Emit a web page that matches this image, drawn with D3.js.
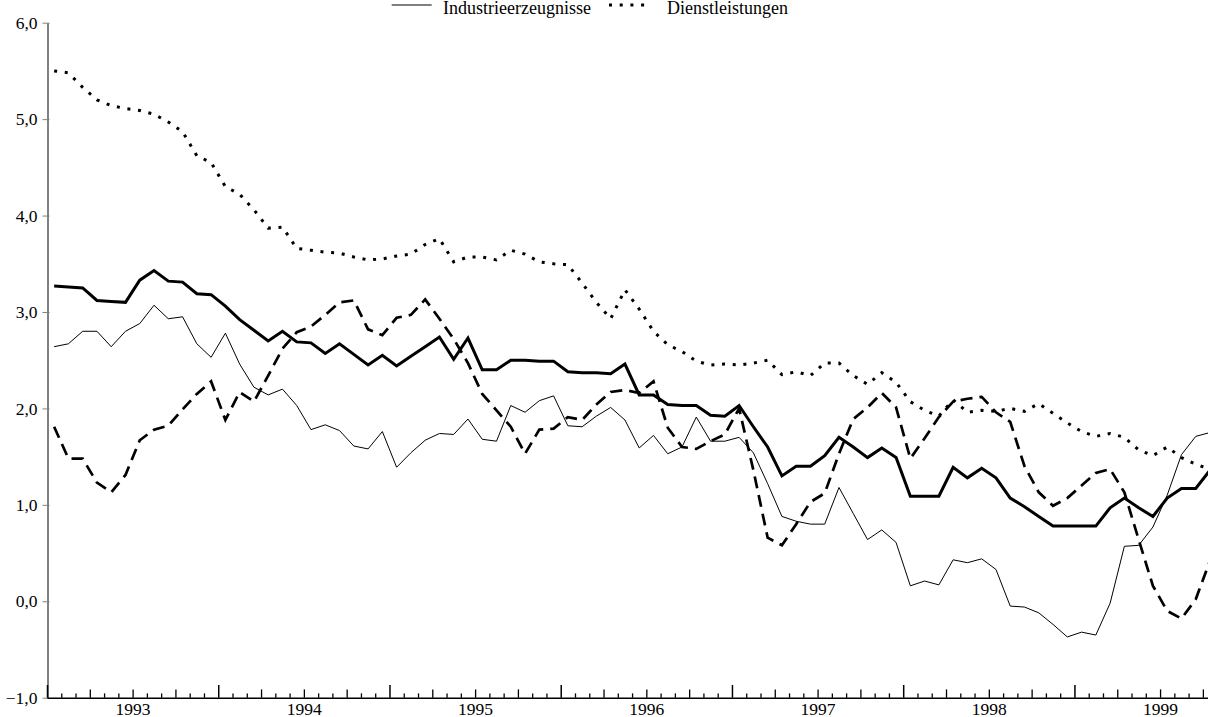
<!DOCTYPE html>
<html>
<head>
<meta charset="utf-8">
<script src="https://cdn.jsdelivr.net/npm/d3@7"></script>
<style>
  html, body { margin: 0; padding: 0; background: #fff; }
  svg { display: block; font-family: "Liberation Serif", "Times New Roman", serif; }
</style>
</head>
<body>
<div id="chart"></div>
<script>
// monthly data, first value = January 1993
var years = ['1993', '1994', '1995', '1996', '1997', '1998', '1999']
var yTicks = [-1, 0, 1, 2, 3, 4, 5, 6]
var legendLabels = ['Industrieerzeugnisse', 'Dienstleistungen']

var insgesamt = [3.27, 3.26, 3.25, 3.12, 3.11, 3.10, 3.33, 3.43, 3.32, 3.31,
  3.19, 3.18, 3.06, 2.92, 2.81, 2.70, 2.80, 2.69, 2.68, 2.57,
  2.67, 2.56, 2.45, 2.55, 2.44, 2.54, 2.64, 2.74, 2.51, 2.73,
  2.40, 2.40, 2.50, 2.50, 2.49, 2.49, 2.38, 2.37, 2.37, 2.36,
  2.46, 2.14, 2.14, 2.04, 2.03, 2.03, 1.93, 1.92, 2.03, 1.81,
  1.60, 1.30, 1.40, 1.40, 1.51, 1.70, 1.60, 1.49, 1.59, 1.49,
  1.09, 1.09, 1.09, 1.39, 1.28, 1.38, 1.28, 1.07, 0.98, 0.88,
  0.78, 0.78, 0.78, 0.78, 0.97, 1.07, 0.97, 0.88, 1.07, 1.17,
  1.17, 1.36]

var industrie = [2.64, 2.67, 2.80, 2.80, 2.64, 2.80, 2.88, 3.07, 2.93, 2.95,
  2.67, 2.53, 2.78, 2.46, 2.22, 2.14, 2.20, 2.03, 1.78, 1.83,
  1.77, 1.61, 1.58, 1.76, 1.39, 1.54, 1.67, 1.74, 1.73, 1.89,
  1.68, 1.66, 2.03, 1.96, 2.08, 2.13, 1.82, 1.81, 1.92, 2.01,
  1.88, 1.59, 1.72, 1.53, 1.60, 1.91, 1.66, 1.66, 1.70, 1.54,
  1.22, 0.88, 0.83, 0.80, 0.80, 1.18, 0.91, 0.64, 0.74, 0.61,
  0.16, 0.21, 0.17, 0.43, 0.40, 0.44, 0.33, -0.05, -0.06, -0.12,
  -0.24, -0.37, -0.32, -0.35, -0.02, 0.57, 0.58, 0.77, 1.10, 1.52,
  1.71, 1.75]

var dienste = [5.50, 5.48, 5.33, 5.20, 5.14, 5.11, 5.09, 5.05, 4.97, 4.87,
  4.62, 4.55, 4.30, 4.22, 4.06, 3.87, 3.88, 3.66, 3.64, 3.62,
  3.61, 3.57, 3.54, 3.55, 3.58, 3.60, 3.70, 3.76, 3.52, 3.57,
  3.57, 3.54, 3.64, 3.60, 3.52, 3.50, 3.49, 3.30, 3.10, 2.93,
  3.23, 3.03, 2.80, 2.66, 2.59, 2.49, 2.45, 2.46, 2.45, 2.47,
  2.50, 2.35, 2.38, 2.34, 2.47, 2.47, 2.34, 2.25, 2.37, 2.27,
  2.07, 1.98, 1.92, 2.09, 1.96, 1.98, 1.97, 2.00, 1.97, 2.05,
  1.95, 1.85, 1.76, 1.71, 1.74, 1.70, 1.57, 1.51, 1.60, 1.49,
  1.42, 1.37]

var nahrung = [1.81, 1.48, 1.48, 1.23, 1.13, 1.31, 1.67, 1.78, 1.82, 1.99,
  2.15, 2.28, 1.88, 2.17, 2.07, 2.34, 2.62, 2.79, 2.85, 2.97,
  3.10, 3.12, 2.82, 2.76, 2.94, 2.97, 3.13, 2.93, 2.72, 2.47,
  2.15, 1.98, 1.81, 1.53, 1.78, 1.79, 1.91, 1.88, 2.04, 2.17,
  2.19, 2.16, 2.28, 1.80, 1.60, 1.58, 1.66, 1.73, 2.00, 1.36,
  0.66, 0.58, 0.80, 1.03, 1.12, 1.53, 1.89, 2.01, 2.16, 2.01,
  1.48, 1.69, 1.91, 2.07, 2.10, 2.12, 1.96, 1.86, 1.40, 1.13,
  0.99, 1.07, 1.20, 1.33, 1.37, 1.13, 0.64, 0.16, -0.10, -0.18,
  0.02, 0.42]

var width = 1208
var height = 717
var monthWidth = 14.27
var plotLeft = 47
var plotTop = 22.7
var plotBottom = 697.7

var x = d3.scaleLinear()
  .domain([0, 84])
  .range([plotLeft, plotLeft + monthWidth * 84])

var y = d3.scaleLinear()
  .domain([-1, 6])
  .range([plotBottom, plotTop])

var svg = d3.select('#chart').append('svg')
  .attr('width', width)
  .attr('height', height)

// y axis (grey)
var yAxis = d3.axisLeft(y)
  .tickValues(yTicks)
  .tickSize(5)
  .tickSizeOuter(0)
  .tickPadding(5)
  .tickFormat(function (d) { return d3.format('.1f')(d).replace('.', ',') })

var gy = svg.append('g')
  .attr('transform', 'translate(' + (plotLeft + 0.5) + ',0)')
  .call(yAxis)
gy.select('.domain').attr('stroke', '#808080').attr('stroke-width', 2)
gy.selectAll('.tick line').attr('stroke', '#808080').attr('x1', 2)
gy.selectAll('text')
  .attr('fill', '#000')
  .style('font-family', '"Liberation Serif", serif')
  .style('font-size', '17.5px')

// x axis: monthly, quarterly and yearly tick marks pointing up
var monthTicks = d3.range(0, 82)
var gxMonths = svg.append('g')
  .attr('transform', 'translate(0,' + plotBottom + ')')
  .call(d3.axisBottom(x)
    .tickValues(monthTicks.filter(function (m) { return m % 3 !== 0 }))
    .tickSize(-4.3).tickSizeOuter(0).tickFormat(''))
gxMonths.select('.domain').attr('stroke', '#000').attr('stroke-width', 1.5)
gxMonths.selectAll('.tick line').attr('stroke-width', 1.3)

var gxQuarters = svg.append('g')
  .attr('transform', 'translate(0,' + plotBottom + ')')
  .call(d3.axisBottom(x)
    .tickValues(monthTicks.filter(function (m) { return m % 3 === 0 && m % 12 !== 0 }))
    .tickSize(-8.3).tickSizeOuter(0).tickFormat(''))
gxQuarters.select('.domain').remove()
gxQuarters.selectAll('.tick line').attr('stroke-width', 1.3)

var gxYears = svg.append('g')
  .attr('transform', 'translate(0,' + plotBottom + ')')
  .call(d3.axisBottom(x)
    .tickValues(monthTicks.filter(function (m) { return m % 12 === 0 }))
    .tickSize(-12.7).tickSizeOuter(0).tickFormat(''))
gxYears.select('.domain').remove()
gxYears.selectAll('.tick line').attr('stroke-width', 1.5)

// year labels centred in each year
var gxLabels = svg.append('g')
  .attr('transform', 'translate(0,' + plotBottom + ')')
  .call(d3.axisBottom(x)
    .tickValues(years.map(function (yr, i) { return i * 12 + 6 }))
    .tickSize(0).tickPadding(4.5)
    .tickFormat(function (d, i) { return years[i] }))
gxLabels.select('.domain').remove()
gxLabels.selectAll('text')
  .attr('fill', '#000')
  .style('font-family', '"Liberation Serif", serif')
  .style('font-size', '17.5px')

// series
var line = d3.line()
  .x(function (d, i) { return x(i + 0.5) })
  .y(function (d) { return y(d) })

var series = [
  { values: industrie, width: 1, dash: null },
  { values: insgesamt, width: 3, dash: null },
  { values: dienste, width: 3, dash: '3,7.7' },
  { values: nahrung, width: 2.7, dash: '12,7' }
]

series.forEach(function (s) {
  svg.append('path')
    .datum(s.values)
    .attr('fill', 'none')
    .attr('stroke', '#000')
    .attr('stroke-width', s.width)
    .attr('stroke-linejoin', 'miter')
    .attr('stroke-dasharray', s.dash)
    .attr('d', line)
})

// legend (second row, first row is outside the picture)
var legend = svg.append('g')
legend.append('line')
  .attr('x1', 391.7).attr('x2', 431.7)
  .attr('y1', 5).attr('y2', 5)
  .attr('stroke', '#000').attr('stroke-width', 1)
legend.append('text')
  .attr('x', 443).attr('y', 13.5)
  .style('font-size', '18px')
  .text(legendLabels[0])
legend.append('line')
  .attr('x1', 609).attr('x2', 645)
  .attr('y1', 5).attr('y2', 5)
  .attr('stroke', '#000').attr('stroke-width', 3)
  .attr('stroke-dasharray', '3,7.7')
legend.append('text')
  .attr('x', 667).attr('y', 13.5)
  .style('font-size', '18px')
  .text(legendLabels[1])
</script>
</body>
</html>
